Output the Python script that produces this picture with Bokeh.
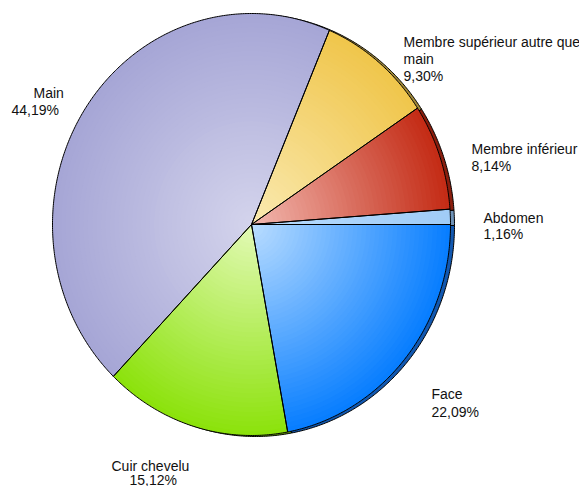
import numpy as np
from bokeh.plotting import figure
from bokeh.models import Range1d
from bokeh.embed import file_html
from bokeh.resources import INLINE
from bokeh.core.properties import value

# ---- data ----
categories = ["Abdomen", "Membre inférieur", "Membre supérieur autre que main",
              "Main", "Cuir chevelu", "Face"]
values = [1.16, 8.14, 9.30, 44.19, 15.12, 22.09]
pct_labels = ["1,16%", "8,14%", "9,30%", "44,19%", "15,12%", "22,09%"]
name_lines = [["Abdomen"], ["Membre inférieur"], ["Membre supérieur autre que", "main"],
              ["Main"], ["Cuir chevelu"], ["Face"]]

inner_colors = [(184, 220, 255), (242, 186, 178), (250, 234, 178), (212, 212, 236), (228, 250, 184), (188, 222, 255)]
outer_colors = [(160, 204, 246), (196, 44, 22), (240, 198, 76), (166, 166, 214), (140, 226, 12), (8, 126, 255)]
dark_colors = ["#6f93b8", "#8a1e0e", "#a08838", "#8080b0", "#6aa010", "#1258b0"]

# ---- layout ----
W, H = 579, 486
CX, CY = 251, 224
RX, RY = 199, 211
DX, DY = 4, 1
N_RINGS = 45

# label layout: (x, baseline) per line; names first then percentage
label_layout = [
    [(483, 217), (483, 233)],
    [(471, 148), (471, 165)],
    [(403, 41), (403, 58), (403, 75)],
    [(33, 92), (11, 109)],
    [(111, 465), (129, 479)],
    [(431, 393), (431, 411)],
]

p = figure(width=W, height=H, x_range=Range1d(0, W), y_range=Range1d(H, 0),
           output_backend="svg", toolbar_location=None, min_border=0)
p.axis.visible = False
p.grid.visible = False
p.outline_line_color = None

total = sum(values)
bounds = np.concatenate([[0.0], np.cumsum(values)]) / total * 2 * np.pi


def sector(a0, a1, f, ox=0.0, oy=0.0):
    n = max(3, int(np.degrees(a1 - a0) * 2))
    t = np.linspace(a0, a1, n)
    xs = np.concatenate([[CX + ox], CX + ox + f * RX * np.cos(t), [CX + ox]])
    ys = np.concatenate([[CY + oy], CY + oy - f * RY * np.sin(t), [CY + oy]])
    return list(xs), list(ys)


# extrusion (side face)
sx, sy = [], []
for i in range(len(values)):
    x, y = sector(bounds[i], bounds[i + 1], 1.0, DX, DY)
    sx.append(x); sy.append(y)
p.patches(sx, sy, fill_color=dark_colors, line_color="black", line_width=1)

# gradient fill
gx, gy, gc = [], [], []
for i in range(len(values)):
    ci = np.array(inner_colors[i], dtype=float)
    co = np.array(outer_colors[i], dtype=float)
    for k in range(N_RINGS, 0, -1):
        f = k / N_RINGS
        c = ci + (co - ci) * f
        x, y = sector(bounds[i], bounds[i + 1], f)
        gx.append(x); gy.append(y)
        gc.append("#%02x%02x%02x" % tuple(int(round(v)) for v in c))
p.patches(gx, gy, fill_color=gc, line_color=None)

# outlines
ox_, oy_ = [], []
for i in range(len(values)):
    x, y = sector(bounds[i], bounds[i + 1], 1.0)
    ox_.append(x); oy_.append(y)
p.patches(ox_, oy_, fill_color=None, line_color="black", line_width=1)

# labels
tx, ty, tt = [], [], []
for i in range(len(values)):
    lines = name_lines[i] + [pct_labels[i]]
    for line, (lx, ly) in zip(lines, label_layout[i]):
        tx.append(lx); ty.append(ly); tt.append(line)
p.text(x=tx, y=ty, text=tt, text_font=value("Liberation Sans"), text_font_size="14px",
       text_baseline="alphabetic", text_align="left", text_color="#111111")

open("out.html", "w").write(file_html(p, INLINE))
